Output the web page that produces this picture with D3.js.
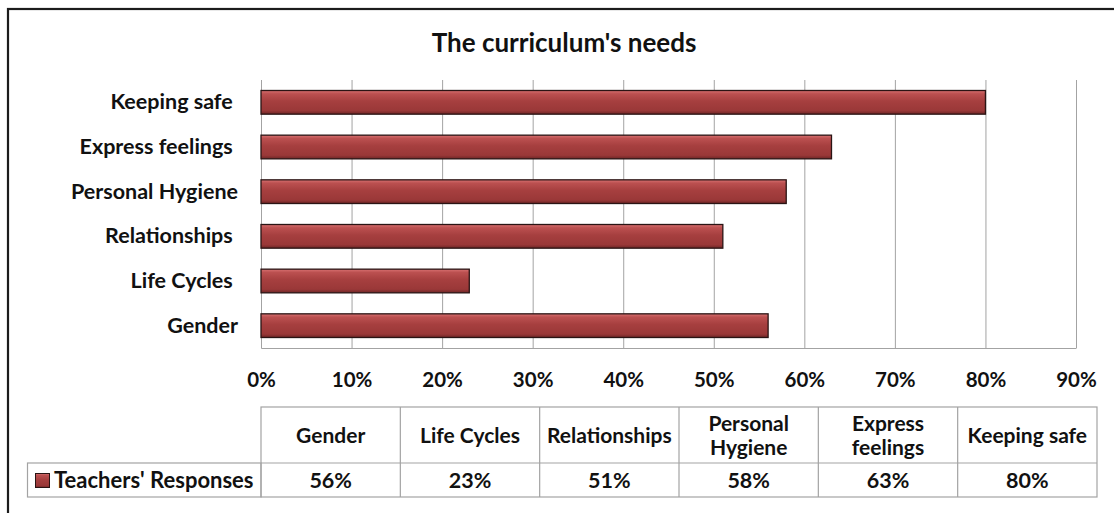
<!DOCTYPE html>
<html>
<head>
<meta charset="utf-8">
<script src="https://cdn.jsdelivr.net/npm/d3@7"></script>
<style>
  body { margin: 0; background: #fff; }
  svg { display: block; font-family: Lato, "Open Sans", sans-serif; font-weight: bold; }
  .cat-axis text { white-space: pre; }
</style>
</head>
<body>
<div class="chart-container"></div>
<script>
//! DATA
const title = "The curriculum's needs";
const seriesName = "Teachers' Responses";
// trailing spaces are in the original labels (they nudge the axis labels left)
const categories = ['Gender', 'Life Cycles ', 'Relationships ', 'Personal Hygiene', 'Express feelings ', 'Keeping safe '];
const values = [0.56, 0.23, 0.51, 0.58, 0.63, 0.80];
const xTicks = [0, 0.1, 0.2, 0.3, 0.4, 0.5, 0.6, 0.7, 0.8, 0.9];

//! CONSTS
const width = 1114;
const height = 513;
const plot = { left: 261, right: 1076, top: 80, bottom: 348 };
const table = { left: 27.5, colStart: 261, right: 1097, top: 407, mid: 463, bottom: 497 };
const gridColor = '#a3a3a3';
const labelSize = 21.5;

const data = categories.map((c, i) => ({ name: c, label: c.trim(), value: values[i] }));

//! SVG
const svg = d3.select('.chart-container')
  .append('svg')
  .attr('width', width)
  .attr('height', height);

const defs = svg.append('defs');
const grad = defs.append('linearGradient')
  .attr('id', 'barFill')
  .attr('x1', 0).attr('y1', 0).attr('x2', 0).attr('y2', 1);
[['0%', '#d97272'], ['14%', '#bb5050'], ['45%', '#a63f3f'], ['85%', '#9a3838'], ['100%', '#6e2626']]
  .forEach(([o, c]) => grad.append('stop').attr('offset', o).attr('stop-color', c));

// outer frame (right & bottom edges fall outside the picture)
svg.append('rect')
  .attr('x', 8).attr('y', 9)
  .attr('width', 1130).attr('height', 530)
  .attr('fill', 'none')
  .attr('stroke', '#1c1c1c')
  .attr('stroke-width', 2.2);

//! TITLE
svg.append('text')
  .attr('x', 564)
  .attr('y', 52)
  .attr('text-anchor', 'middle')
  .attr('font-size', 26)
  .attr('fill', '#111')
  .text(title);

//! SCALES
const xScale = d3.scaleLinear()
  .domain([0, 0.9])
  .range([plot.left, plot.right]);

const yScale = d3.scaleBand()
  .domain(categories.slice().reverse())
  .range([plot.top, plot.bottom])
  .paddingInner(0.47)
  .paddingOuter(0.235);

//! AXIS
const xAxis = d3.axisBottom(xScale)
  .tickValues(xTicks)
  .tickFormat(d3.format('.0%'))
  .tickSize(-(plot.bottom - plot.top))
  .tickSizeOuter(0)
  .tickPadding(24.5);

const gx = svg.append('g')
  .attr('transform', `translate(0,${plot.bottom})`)
  .call(xAxis);
gx.selectAll('line').attr('stroke', gridColor);
gx.select('.domain').attr('stroke', gridColor);

const yAxis = d3.axisLeft(yScale)
  .tickSize(0)
  .tickSizeOuter(0)
  .tickPadding(23);

const gy = svg.append('g')
  .attr('class', 'cat-axis')
  .attr('transform', `translate(${plot.left},0)`)
  .call(yAxis);
gy.select('.domain').attr('stroke', gridColor);

svg.selectAll('g').attr('font-family', null).attr('font-size', null);
gx.selectAll('text').attr('font-size', 20.5).attr('fill', '#111');
gy.selectAll('text').attr('font-size', labelSize).attr('fill', '#111');

//! BARS
svg.append('g')
  .selectAll('rect')
  .data(data)
  .enter()
  .append('rect')
  .attr('x', xScale(0))
  .attr('y', d => yScale(d.name))
  .attr('width', d => xScale(d.value) - xScale(0))
  .attr('height', yScale.bandwidth())
  .attr('fill', 'url(#barFill)')
  .attr('stroke', '#2a1414')
  .attr('stroke-width', 1.3);

//! DATA TABLE
const colScale = d3.scaleBand()
  .domain(categories)
  .range([table.colStart, table.right]);

const tbl = svg.append('g')
  .attr('stroke', gridColor)
  .attr('stroke-width', 1.2)
  .attr('fill', 'none');

tbl.append('rect')
  .attr('x', table.colStart).attr('y', table.top)
  .attr('width', table.right - table.colStart).attr('height', table.bottom - table.top);
tbl.append('rect')
  .attr('x', table.left).attr('y', table.mid)
  .attr('width', table.colStart - table.left).attr('height', table.bottom - table.mid);
tbl.append('line')
  .attr('x1', table.colStart).attr('x2', table.right)
  .attr('y1', table.mid).attr('y2', table.mid);
tbl.selectAll('.col-line')
  .data(categories.slice(1))
  .enter()
  .append('line')
  .attr('x1', d => colScale(d)).attr('x2', d => colScale(d))
  .attr('y1', table.top).attr('y2', table.bottom);

// header cells, wrapped onto two lines when too wide for the column
const headers = svg.append('g')
  .selectAll('text')
  .data(data)
  .enter()
  .append('text')
  .attr('text-anchor', 'middle')
  .attr('font-size', 21)
  .attr('fill', '#111')
  .attr('x', d => colScale(d.name) + colScale.bandwidth() / 2);

headers.each(function (d) {
  const t = d3.select(this);
  const cx = colScale(d.name) + colScale.bandwidth() / 2;
  const cy = (table.top + table.mid) / 2;
  t.text(d.label);
  if (this.getComputedTextLength() > colScale.bandwidth() - 8 && d.label.includes(' ')) {
    const words = d.label.split(' ');
    t.text(null);
    t.append('tspan').attr('x', cx).attr('y', cy - 4).text(words[0]);
    t.append('tspan').attr('x', cx).attr('y', cy + 20).text(words.slice(1).join(' '));
  } else {
    t.attr('y', cy + 8);
  }
});

svg.append('g')
  .selectAll('text')
  .data(data)
  .enter()
  .append('text')
  .attr('text-anchor', 'middle')
  .attr('font-size', labelSize)
  .attr('fill', '#111')
  .attr('x', d => colScale(d.name) + colScale.bandwidth() / 2)
  .attr('y', (table.mid + table.bottom) / 2 + 8)
  .text(d => d3.format('.0%')(d.value));

// legend key inside the table
svg.append('rect')
  .attr('x', 35.5).attr('y', 473.5)
  .attr('width', 14).attr('height', 14)
  .attr('fill', 'url(#barFill)')
  .attr('stroke', '#2a1414')
  .attr('stroke-width', 1);

svg.append('text')
  .attr('x', 54)
  .attr('y', (table.mid + table.bottom) / 2 + 8)
  .attr('font-size', 22)
  .attr('fill', '#111')
  .text(seriesName);
</script>
</body>
</html>
